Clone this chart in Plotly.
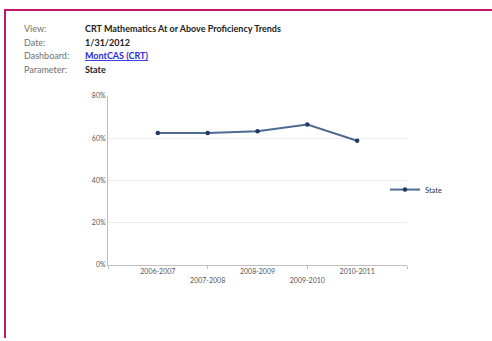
import plotly.graph_objects as go

categories = ["2006-2007", "2007-2008", "2008-2009", "2009-2010", "2010-2011"]
state_values = [62.4, 62.4, 63.2, 66.4, 58.7]
series_name = "State"
y_ticks = [0, 20, 40, 60, 80]
header_labels = ["View:", "Date:", "Dashboard:", "Parameter:"]
header_values = ["CRT Mathematics At or Above Proficiency Trends", "1/31/2012",
                 "MontCAS (CRT)", "State"]

W, H = 492, 341
FONT = "Lato, 'Open Sans', sans-serif"

x_idx = list(range(len(categories)))
# staggered labels: odd ones on second row
tick_text = [c if i % 2 == 0 else "<br>" + c for i, c in enumerate(categories)]

fig = go.Figure()
fig.add_trace(go.Scatter(
    x=x_idx, y=state_values, name=series_name, mode="lines+markers",
    line=dict(color="#4F6A93", width=2),
    marker=dict(color="#1F3864", size=4.5),
    showlegend=True,
))

fig.update_layout(
    width=W, height=H,
    margin=dict(l=0, r=0, t=0, b=0),
    paper_bgcolor="white", plot_bgcolor="white",
    font=dict(family=FONT, size=7, color="#555555"),
    xaxis=dict(
        domain=[108 / W, 407 / W], range=[-1, 5],
        tickmode="array", tickvals=x_idx, ticktext=tick_text,
        ticks="", showgrid=False, zeroline=False,
        showline=True, linecolor="#BFBFBF", linewidth=1,
        tickfont=dict(size=7, color="#555555"),
        minor=dict(tickmode="array", tickvals=[-1, 1, 3, 5], ticks="outside",
                   ticklen=3, tickcolor="#BFBFBF", showgrid=False),
    ),
    yaxis=dict(
        domain=[1 - 266 / H, 1 - 93 / H], range=[0, 80],
        tickmode="array", tickvals=y_ticks,
        ticktext=[f"{v}%" for v in y_ticks],
        showgrid=True, gridcolor="#EDEDED", gridwidth=1,
        zeroline=False, showline=True, linecolor="#BFBFBF", linewidth=1,
        tickfont=dict(size=7, color="#555555"),
    ),
    legend=dict(
        x=385 / W, y=1 - 189 / H, xanchor="left", yanchor="middle",
        font=dict(size=7.5, color="#333333"), itemwidth=30,
        bgcolor="rgba(0,0,0,0)",
    ),
)

# Header text
row_y = [24, 38, 52, 66]
for lab, val, py in zip(header_labels, header_values, row_y):
    fig.add_annotation(x=22 / W, y=1 - py / H, xref="paper", yref="paper",
                       xanchor="left", yanchor="middle", showarrow=False,
                       text=lab, font=dict(size=9, color="#707070", family=FONT))
    if lab == "Dashboard:":
        txt = f"<b><u>{val}</u></b>"
        col = "#2A2AE0"
    else:
        txt = f"<b>{val}</b>"
        col = "#222222"
    fig.add_annotation(x=83 / W, y=1 - py / H, xref="paper", yref="paper",
                       xanchor="left", yanchor="middle", showarrow=False,
                       text=txt, font=dict(size=9, color=col, family=FONT))

# magenta frame (top and left edges)
fig.add_shape(type="line", xref="paper", yref="paper",
              x0=4 / W, x1=1, y0=1 - 5 / H, y1=1 - 5 / H,
              line=dict(color="#C2176F", width=2))
fig.add_shape(type="line", xref="paper", yref="paper",
              x0=5 / W, x1=5 / W, y0=0, y1=1 - 4 / H,
              line=dict(color="#C2176F", width=2))

fig.write_html("out.html")
